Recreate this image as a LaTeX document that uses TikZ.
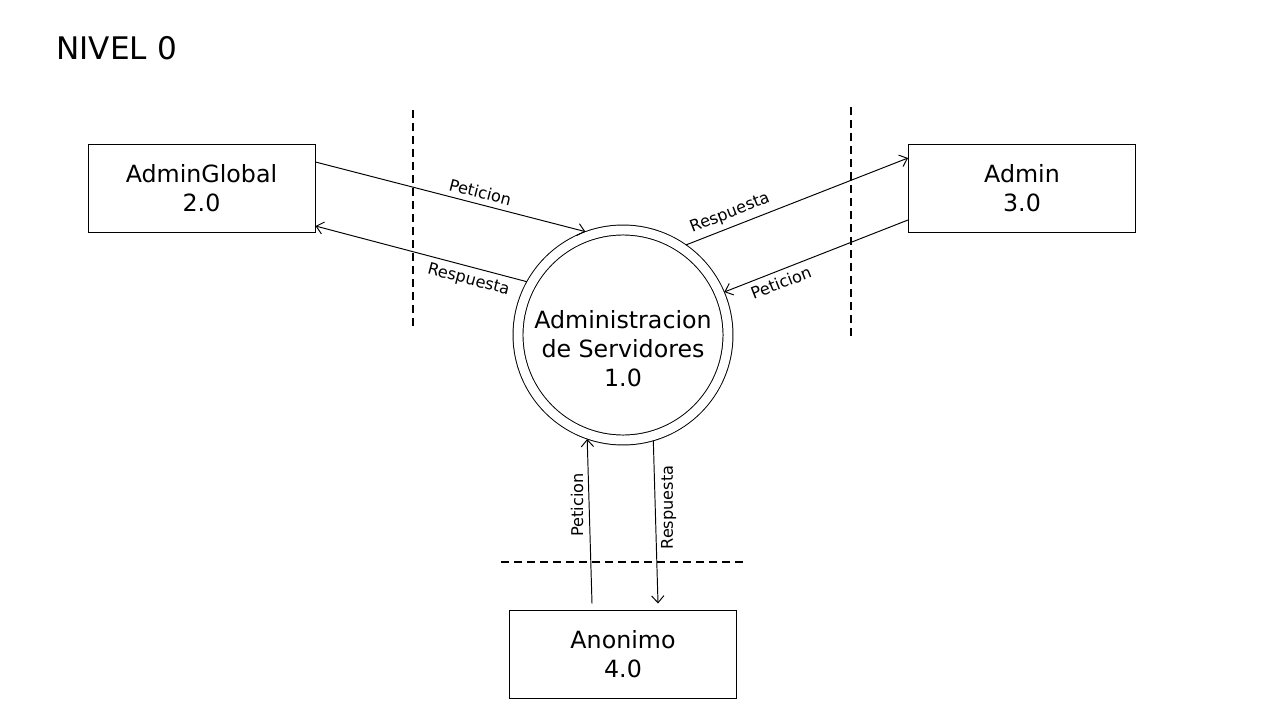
\documentclass[tikz,border=0pt]{standalone}
\usepackage{fontspec}
\setmainfont{DejaVu Sans}
\usetikzlibrary{positioning,arrows.meta}

\begin{document}
\begin{tikzpicture}[-{Straight Barb[length=4pt,width=7pt]}, auto, on grid,
line width=0.55pt,
entity/.style ={rectangle, draw, minimum width=4.54cm, minimum height=1.76cm,
  align=center, font=\fontsize{13.5}{16.5}\selectfont},
process/.style ={circle, draw, double, double distance=5.1pt, minimum size=4.2cm,
  inner sep=0pt, outer sep=0.1cm, align=center, font=\fontsize{13.5}{16.5}\selectfont},
tag/.style ={font=\fontsize{9.2}{11}\selectfont, inner sep=3pt},
limit/.style ={-, line width=1.1pt, dash pattern=on 4.6pt off 2.8pt}]
\useasboundingbox (0,0) rectangle (25.6,-14.4);
\node[anchor=west, inner sep=0pt, font=\fontsize{17.7}{20}\selectfont] (T) at (1.12,-0.96) {NIVEL 0};
\node[process] (P) at (12.46,-6.70) {\rule{0pt}{26pt}Administracion\\de Servidores\\1.0};
\node[entity] (AG) [above left = 2.94cm and 8.43cm of P] {AdminGlobal\\2.0};
\node[entity] (AD) [above right = 2.94cm and 7.98cm of P] {Admin\\3.0};
\node[entity] (AN) [below = 6.38cm of P] {Anonimo\\4.0};
% limites
\draw[limit] (8.26,-2.2) -- (8.26,-6.54);
\draw[limit] (17.02,-2.14) -- (17.02,-6.76);
\draw[limit] (10.02,-11.24) -- (14.96,-11.24);
% flujos
\draw ([yshift=0.52cm]AG.east) -- node[tag, sloped, above, pos=0.6] {Peticion} (P.110.7);
\draw (P.151.1) -- node[tag, sloped, below, pos=0.26] {Respuesta} ([yshift=-0.76cm]AG.east);
\draw (P.55) -- node[tag, sloped, above, pos=0.22] {Respuesta} ([yshift=0.6cm]AD.west);
\draw ([yshift=-0.64cm]AD.west) -- node[tag, sloped, below, pos=0.715] {Peticion} (P.23.3);
\draw ([shift={(-0.62,0.12)}]AN.north) -- node[tag, rotate=90, anchor=south, pos=0.6] {Peticion} (P.251.1);
\draw (P.286.7) -- node[tag, rotate=90, anchor=north, pos=0.41] {Respuesta} ([shift={(0.7,0.12)}]AN.north);
\end{tikzpicture}
\end{document}
